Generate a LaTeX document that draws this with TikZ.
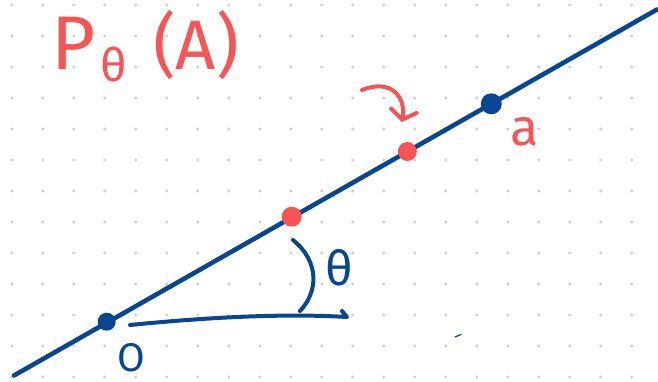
\documentclass[tikz,border=0pt]{standalone}
\usepackage{fontspec}
\setmainfont{Fira Sans}
\usepackage{tikz}
\usetikzlibrary{arrows.meta}
\definecolor{penblue}{RGB}{8,70,145}
\definecolor{penred}{RGB}{245,85,85}
\definecolor{griddot}{RGB}{205,205,205}
\newcommand{\hand}[1]{\fontsize{#1}{#1}\selectfont}

\begin{document}
\begin{tikzpicture}[x=1pt,y=-1pt,line cap=round,line join=round,
    ink/.style={line width=4.6pt},
    pen/.style={line width=4pt},
    pdot/.style={circle,inner sep=0pt,minimum size=#1},
    lbl/.style={inner sep=0pt}]
  \useasboundingbox[fill=white] (0,0) rectangle (658,381);
  % dotted paper
  \foreach \i in {0,...,20}
    \foreach \j in {0,...,12}
      \fill[griddot] (11.7+31*\i,5+31*\j) circle (1.6pt);
  % the ray through O and a
  \coordinate (start) at (14,375.5);
  \coordinate (end) at (657,9.5);
  \draw[ink,penblue] (start) -- (end);
  \node[pdot=18pt,fill=penblue] (O) at (106.7,321.7) {};
  \node[pdot=21pt,fill=penblue] (a) at (491.3,103.8) {};
  \node[pdot=20pt,fill=penred] (p1) at (291.7,216.7) {};
  \node[pdot=19pt,fill=penred] (p2) at (407.3,151.5) {};
  % labels
  \node[lbl,text=penred,font=\hand{76}] (P) at (74,43) {P};
  \node[lbl,text=penred,font=\hand{46}] (sub) at (114,65) {θ};
  \node[lbl,text=penred,font=\hand{70}] (arg) at (196,45) {(A)};
  \node[lbl,text=penred,font=\hand{52}] (alab) at (525,132) {a};
  \node[lbl,text=penblue,font=\hand{40}] (olab) at (131,358) {O};
  \node[lbl,text=penblue,font=\hand{48}] (th) at (339,268) {θ};
  % angle
  \coordinate (base0) at (130,325);
  \coordinate (base1) at (347,317);
  \coordinate (hook) at (342,311);
  \coordinate (arc0) at (293,240);
  \coordinate (arc1) at (300,311);
  \draw[penblue,pen] (base0) .. controls (200,318) and (280,313) .. (base1) -- (hook);
  \draw[penblue,pen] (arc0) .. controls (320,262) and (318,292) .. (arc1);
  \draw[penblue,line width=1.2pt] (455,337) -- (461,334.5);
  % pointer to the projection
  \coordinate (tail) at (362,90);
  \coordinate (tip) at (402,122);
  \draw[penred,pen,-{Straight Barb[length=9pt,width=26pt,line cap=round]}]
    (tail) .. controls (392,78) and (406,98) .. (tip);
\end{tikzpicture}
\end{document}
